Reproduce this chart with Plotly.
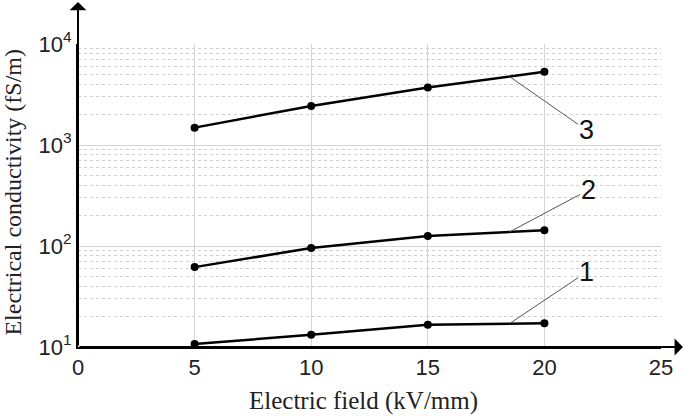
import numpy as np
import plotly.graph_objects as go

# ---- data ----
field = [5, 10, 15, 20]                      # kV/mm
sigma_1 = [10.7, 13.2, 16.6, 17.2]           # fS/m
sigma_2 = [61.8, 95.5, 125.6, 143.0]
sigma_3 = [1486, 2438, 3707, 5308]
series = [("1", sigma_1), ("2", sigma_2), ("3", sigma_3)]

x_ticks = [0, 5, 10, 15, 20, 25]
y_ticks = [10, 100, 1000, 10000]
y_ticktext = ["10<sup>1</sup>", "10<sup>2</sup>", "10<sup>3</sup>", "10<sup>4</sup>"]
y_minor = [m * 10 ** d for d in range(1, 4) for m in range(2, 10)]

# curve labels: (x, log10 y) of label text; leader starts on curve at x=18.5
label_pos = {"1": (21.79, 1.739), "2": (21.87, 2.553), "3": (21.79, 3.149)}
leader_x = 18.5

fig = go.Figure()
for name, vals in series:
    fig.add_trace(go.Scatter(
        x=field, y=vals, mode="lines+markers", name=name,
        line=dict(color="black", width=2.5),
        marker=dict(color="black", size=8, symbol="circle"),
        showlegend=False))

annotations = []
for name, vals in series:
    ly = np.interp(leader_x, field, np.log10(vals))
    tx, ty = label_pos[name]
    annotations.append(dict(
        x=leader_x, y=ly, xref="x", yref="y",
        ax=tx, ay=ty, axref="x", ayref="y",
        text=name, showarrow=True, arrowhead=0, arrowwidth=1,
        arrowcolor="#555555", standoff=0, borderpad=0,
        font=dict(family="Liberation Sans, Arial", size=27, color="#111111")))

# axis arrows
annotations.append(dict(x=1.0377, y=0, xref="paper", yref="paper",
                        ax=-605, ay=0, text="", showarrow=True,
                        arrowhead=1, arrowsize=1.4, arrowwidth=2, arrowcolor="black"))
annotations.append(dict(x=0, y=1.139, xref="paper", yref="paper",
                        ax=0, ay=345, text="", showarrow=True,
                        arrowhead=1, arrowsize=1.4, arrowwidth=2, arrowcolor="black"))
# axis titles
annotations.append(dict(x=0.489, y=-0.177, xref="paper", yref="paper",
                        xanchor="center", yanchor="middle",
                        text="Electric field (kV/mm)", showarrow=False,
                        font=dict(family="Liberation Serif, Times New Roman", size=25, color="#222222")))
annotations.append(dict(x=-0.1115, y=0.513, xref="paper", yref="paper",
                        xanchor="center", yanchor="middle",
                        text="Electrical conductivity (fS/m)", showarrow=False, textangle=-90,
                        font=dict(family="Liberation Serif, Times New Roman", size=24, color="#222222")))

fig.update_layout(
    width=685, height=416,
    margin=dict(l=78, r=24, t=44, b=69),
    paper_bgcolor="white", plot_bgcolor="white",
    annotations=annotations,
    xaxis=dict(range=[0, 25], tickvals=x_ticks, showline=True, linecolor="black",
               linewidth=2, showgrid=True, gridcolor="#d4d4d4", gridwidth=1,
               zeroline=False, ticks="", ticklen=0, automargin=False,
               tickfont=dict(family="Liberation Sans, Arial", size=22, color="#222222")),
    yaxis=dict(type="log", range=[1, 4], tickvals=y_ticks, ticktext=y_ticktext,
               showline=True, linecolor="black", linewidth=2,
               showgrid=True, gridcolor="#d4d4d4", gridwidth=1, zeroline=False,
               ticks="", ticklen=0, automargin=False,
               tickfont=dict(family="Liberation Sans, Arial", size=22, color="#222222"),
               minor=dict(tickvals=y_minor, showgrid=True, gridcolor="#cfcfcf",
                          griddash="dot", gridwidth=1)),
)

fig.write_html("out.html", config={"displayModeBar": False},
               post_script="document.body.style.margin='0';document.body.style.overflow='hidden';")
